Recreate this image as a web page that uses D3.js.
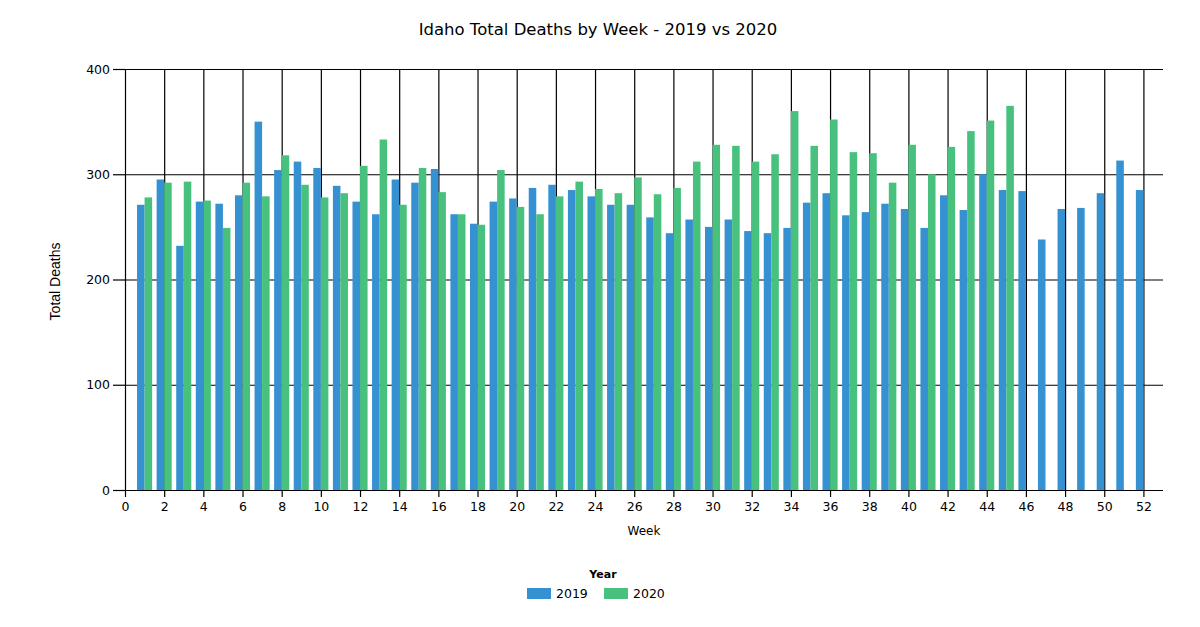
<!DOCTYPE html>
<html>
<head>
<meta charset="utf-8">
<script src="https://cdn.jsdelivr.net/npm/d3@7"></script>
<style>
  body { margin: 0; background: #fff; }
  svg text { font-family: "DejaVu Sans", Verdana, sans-serif; fill: #000; }
</style>
</head>
<body>
<div id="chart"></div>
<script>
// weekly totals
var weeks2019 = d3.range(1, 53);
var deaths2019 = [271, 295, 232, 274, 272, 280, 350, 304, 312, 306,
    289, 274, 262, 295, 292, 305, 262, 253, 274, 277,
    287, 290, 285, 279, 271, 271, 259, 244, 257, 250,
    257, 246, 244, 249, 273, 282, 261, 264, 272, 267,
    249, 280, 266, 300, 285, 284, 238, 267, 268, 282,
    313, 285];
var weeks2020 = d3.range(1, 46);
var deaths2020 = [278, 292, 293, 275, 249, 292, 279, 318, 290, 278,
    282, 308, 333, 271, 306, 283, 262, 252, 304, 269,
    262, 279, 293, 286, 282, 297, 281, 287, 312, 328,
    327, 312, 319, 360, 327, 352, 321, 320, 292, 328,
    300, 326, 341, 351, 365];
var years = ["2019", "2020"];
var colors = ["#3591d1", "#48c17e"];
var yTicks = [0, 100, 200, 300, 400];
var xTicks = d3.range(0, 53, 2);

var width = 1200;
var height = 627;
var plotLeft = 125, plotRight = 1163, plotTop = 69, plotBottom = 490;

var svg = d3.select("#chart")
    .append("svg")
    .attr("width", width)
    .attr("height", height);

var x = d3.scaleLinear().domain([0, 53]).range([plotLeft, plotRight]);
var y = d3.scaleLinear().domain([0, 400]).range([plotBottom, plotTop]);

// grid lines (behind bars)
svg.append("g")
    .attr("transform", "translate(" + plotLeft + ",0)")
    .call(d3.axisLeft(y).tickValues(yTicks.slice(1)).tickSize(-(plotRight - plotLeft)).tickFormat(""))
    .call(g => g.select(".domain").remove())
    .selectAll("line").attr("stroke", "#000").attr("stroke-width", 1.2);

svg.append("g")
    .attr("transform", "translate(0," + plotBottom + ")")
    .call(d3.axisBottom(x).tickValues(xTicks.slice(1)).tickSize(-(plotBottom - plotTop)).tickFormat(""))
    .call(g => g.select(".domain").remove())
    .selectAll("line").attr("stroke", "#000").attr("stroke-width", 1.2);

// bars
var bw = 0.385;
var series = [
    weeks2019.map((w, i) => ({ week: w, value: deaths2019[i] })),
    weeks2020.map((w, i) => ({ week: w, value: deaths2020[i] }))
];

series.forEach(function (data, k) {
    svg.append("g")
        .selectAll("rect")
        .data(data)
        .enter()
        .append("rect")
        .attr("fill", colors[k])
        .attr("x", d => k === 0 ? x(d.week - bw) : x(d.week))
        .attr("width", x(bw) - x(0))
        .attr("y", d => y(d.value))
        .attr("height", d => y(0) - y(d.value));
});

// axes
var yAxis = svg.append("g")
    .attr("transform", "translate(" + plotLeft + ",0)")
    .call(d3.axisLeft(y).tickValues(yTicks).tickSize(12).tickSizeOuter(0).tickPadding(3));
var xAxis = svg.append("g")
    .attr("transform", "translate(0," + plotBottom + ")")
    .call(d3.axisBottom(x).tickValues(xTicks).tickSize(7).tickSizeOuter(0).tickPadding(5));

[yAxis, xAxis].forEach(function (g) {
    g.selectAll("line, path").attr("stroke", "#000").attr("stroke-width", 1.2);
    g.selectAll("text").attr("font-size", "12.5px").attr("font-family", "DejaVu Sans").attr("fill", "#000");
});
// x axis line reaches back under the 0 tick
xAxis.select(".domain").attr("d", "M" + (plotLeft - 12) + ",0.5H" + plotRight);

// title and axis labels
svg.append("text")
    .attr("x", 598)
    .attr("y", 35)
    .attr("text-anchor", "middle")
    .attr("font-size", "16.5px")
    .text("Idaho Total Deaths by Week - 2019 vs 2020");

svg.append("text")
    .attr("x", (plotLeft + plotRight) / 2)
    .attr("y", 535)
    .attr("text-anchor", "middle")
    .attr("font-size", "12px")
    .text("Week");

svg.append("text")
    .attr("transform", "translate(60," + ((plotTop + plotBottom) / 2 + 2) + ") rotate(-90)")
    .attr("text-anchor", "middle")
    .attr("font-size", "14px")
    .style("font-family", "Liberation Sans, Arial, sans-serif")
    .text("Total Deaths");

// legend
var legend = svg.append("g");
legend.append("text")
    .attr("x", 603)
    .attr("y", 578)
    .attr("text-anchor", "middle")
    .attr("font-size", "11px")
    .attr("font-weight", "bold")
    .text("Year");

var items = legend.selectAll("g.item")
    .data(years)
    .enter()
    .append("g")
    .attr("class", "item")
    .attr("transform", (d, i) => "translate(" + (527 + i * 77) + ",588)");
items.append("rect")
    .attr("width", 24)
    .attr("height", 11)
    .attr("fill", (d, i) => colors[i]);
items.append("text")
    .attr("x", 29)
    .attr("y", 10)
    .attr("font-size", "12.5px")
    .text(d => d);
</script>
</body>
</html>
